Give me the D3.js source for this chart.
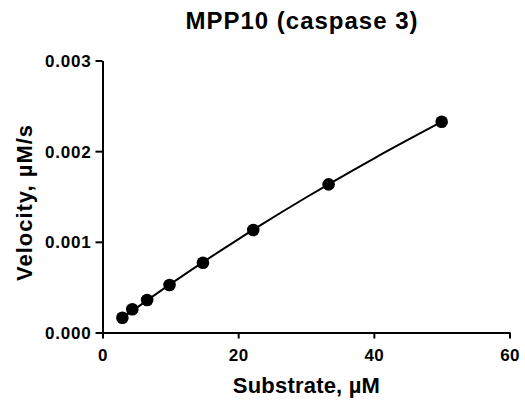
<!DOCTYPE html>
<html>
<head>
<meta charset="utf-8">
<script src="https://cdn.jsdelivr.net/npm/d3@7"></script>
<style>
  html, body { margin: 0; padding: 0; background: #fff; }
  svg { display: block; }
  text { font-family: "Liberation Sans", Arial, Helvetica, sans-serif; font-weight: bold; fill: #000; }
</style>
</head>
<body>
<svg id="chart" width="525" height="408"></svg>
<script>
// ---- data ----
const title = "MPP10 (caspase 3)";
const xLabel = "Substrate, \u00b5M";
const yLabel = "Velocity, \u00b5M/s";
const substrate = [2.93, 4.39, 6.58, 9.88, 14.81, 22.22, 33.33, 50];
const velocity = [0.000163, 0.000256, 0.000358, 0.000524, 0.00077, 0.00113, 0.001634, 0.002325];
const fitX = [2.93, 10, 20, 30, 40, 50];
const fitY = [0.00016, 0.000533, 0.001028, 0.001489, 0.001919, 0.002323];
const xTicks = [0, 20, 40, 60];
const yTicks = [0.000, 0.001, 0.002, 0.003];

// ---- layout ----
const svg = d3.select("#chart");
const plotLeft = 102.5, plotRight = 509.5, plotTop = 60.5, plotBottom = 332.5;

const x = d3.scaleLinear().domain([0, 60]).range([plotLeft, plotRight]);
const y = d3.scaleLinear().domain([0, 0.003]).range([plotBottom, plotTop]);

// x axis
const gx = svg.append("g").attr("transform", `translate(0,${plotBottom})`)
  .call(d3.axisBottom(x).tickValues(xTicks).tickFormat(d3.format("d")).tickSize(6).tickSizeOuter(0));
gx.select(".domain").attr("stroke", "#000").attr("stroke-width", 2);
gx.selectAll(".tick line").attr("stroke", "#000").attr("stroke-width", 2);
gx.selectAll(".tick text").attr("y", 28.5).attr("dy", null)
  .style("font-size", "17px").style("letter-spacing", "0.4px").attr("fill", "#000");

// y axis
const gy = svg.append("g").attr("transform", `translate(${plotLeft},0)`)
  .call(d3.axisLeft(y).tickValues(yTicks).tickFormat(d3.format(".3f")).tickSize(7).tickSizeOuter(0).tickPadding(4));
gy.select(".domain").attr("stroke", "#000").attr("stroke-width", 2);
gy.selectAll(".tick line").attr("stroke", "#000").attr("stroke-width", 2);
gy.selectAll(".tick text").attr("dy", "0.36em")
  .style("font-size", "17px").style("letter-spacing", "0.8px").attr("fill", "#000");

// fit curve
const line = d3.line().x((d, i) => x(fitX[i])).y(d => y(d)).curve(d3.curveMonotoneX);
svg.append("path").datum(fitY).attr("d", line)
  .attr("fill", "none").attr("stroke", "#000").attr("stroke-width", 2);

// points
svg.append("g").selectAll("circle").data(substrate).join("circle")
  .attr("cx", d => x(d)).attr("cy", (d, i) => y(velocity[i])).attr("r", 6.3).attr("fill", "#000");

// title
svg.append("text").attr("x", 302).attr("y", 29).attr("text-anchor", "middle")
  .style("font-size", "24px").style("letter-spacing", "1px").text(title);

// x label
svg.append("text").attr("x", 306.5).attr("y", 393).attr("text-anchor", "middle")
  .style("font-size", "22px").style("letter-spacing", "0.2px").text(xLabel);

// y label
svg.append("text").attr("transform", "translate(31.5,202.5) rotate(-90)").attr("text-anchor", "middle")
  .style("font-size", "22px").style("letter-spacing", "1px").text(yLabel);
</script>
</body>
</html>
